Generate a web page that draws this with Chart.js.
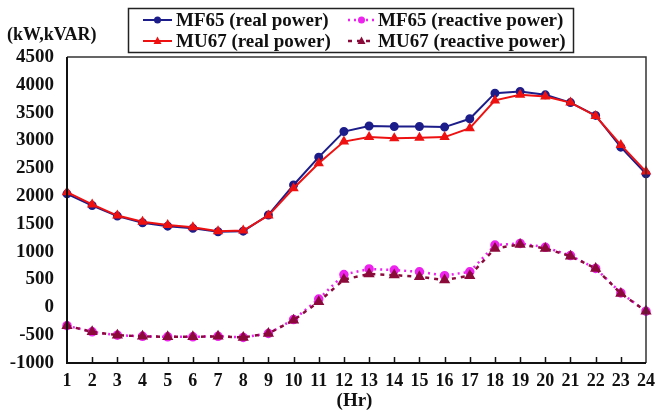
<!DOCTYPE html>
<html>
<head>
<meta charset="utf-8">
<script src="https://cdn.jsdelivr.net/npm/chart.js@4/dist/chart.umd.min.js"></script>
<style>
  html, body { margin: 0; padding: 0; background: #ffffff; }
  #wrap { width: 655px; height: 410px; position: relative; }
</style>
</head>
<body>
<div id="wrap"><canvas id="c" width="655" height="410"></canvas></div>
<script>
// Hourly load profile (kW for real power, kVAR for reactive power)
const hours = ['1','2','3','4','5','6','7','8','9','10','11','12','13','14','15','16','17','18','19','20','21','22','23','24'];

const mf65Real = [2040, 1830, 1640, 1520, 1460, 1420, 1360, 1370, 1660, 2200, 2700, 3160, 3260, 3250, 3250, 3240, 3390, 3850, 3880, 3820, 3680, 3450, 2880, 2400];
const mu67Real = [2070, 1850, 1650, 1540, 1480, 1440, 1370, 1380, 1650, 2140, 2590, 2980, 3060, 3040, 3050, 3060, 3220, 3720, 3820, 3790, 3680, 3440, 2920, 2440];
const mf65Reactive = [-330, -440, -500, -520, -530, -530, -520, -540, -470, -220, 150, 590, 690, 670, 640, 570, 640, 1120, 1150, 1080, 930, 700, 260, -70];
const mu67Reactive = [-330, -440, -500, -520, -530, -530, -520, -540, -470, -230, 100, 500, 600, 580, 550, 490, 570, 1060, 1130, 1060, 920, 700, 250, -70];

const yTicks = { min: -1000, max: 4500, step: 500 };

const seriesNames = ['MF65 (real power)', 'MU67 (real power)', 'MF65 (reactive power)', 'MU67 (reactive power)'];

const FONT = '"Liberation Serif", "Times New Roman", serif';

function drawMarker(ctx, style, x, y, r, color) {
  ctx.save();
  ctx.fillStyle = color;
  ctx.beginPath();
  if (style === 'triangle') {
    ctx.moveTo(x, y - r * 1.1);
    ctx.lineTo(x + r, y + r * 0.75);
    ctx.lineTo(x - r, y + r * 0.75);
    ctx.closePath();
  } else {
    ctx.arc(x, y, r, 0, Math.PI * 2);
  }
  ctx.fill();
  ctx.restore();
}

// Frame, inner x ticks, axis captions and boxed legend
const decorations = {
  id: 'decorations',
  afterDatasetsDraw(chart) {
    const { ctx, chartArea: a, scales } = chart;
    ctx.save();
    // thin top/right frame
    ctx.strokeStyle = '#333';
    ctx.lineWidth = 1.5;
    ctx.beginPath();
    ctx.moveTo(a.left, a.top);
    ctx.lineTo(a.right, a.top);
    ctx.lineTo(a.right, a.bottom);
    ctx.stroke();
    // heavier left/bottom axes
    ctx.strokeStyle = '#111';
    ctx.lineWidth = 2;
    ctx.beginPath();
    ctx.moveTo(a.left, a.top);
    ctx.lineTo(a.left, a.bottom);
    ctx.lineTo(a.right, a.bottom);
    ctx.stroke();
    // x ticks pointing into the plot
    ctx.lineWidth = 1.5;
    ctx.beginPath();
    for (let i = 1; i < hours.length - 1; i++) {
      const x = Math.round(scales.x.getPixelForValue(i)) + 0.5;
      ctx.moveTo(x, a.bottom);
      ctx.lineTo(x, a.bottom - 6);
    }
    ctx.stroke();
    ctx.restore();
  },
  afterDraw(chart) {
    const { ctx, chartArea: a } = chart;
    ctx.save();
    ctx.fillStyle = '#111';
    ctx.font = 'bold 18px ' + FONT;
    ctx.textBaseline = 'middle';
    ctx.textAlign = 'left';
    ctx.fillText('(kW,kVAR)', 7, 35);

    ctx.font = 'bold 19px ' + FONT;
    ctx.textAlign = 'center';
    ctx.fillText('(Hr)', (a.left + a.right) / 2 - 2, 401);

    // legend box
    ctx.textAlign = 'left';
    const box = { x: 128, y: 8, w: 445, h: 44 };
    ctx.strokeStyle = '#222';
    ctx.lineWidth = 1.5;
    ctx.strokeRect(box.x + 0.5, box.y + 0.5, box.w, box.h);

    const cols = [{ l0: 143, l1: 172, text: 176 }, { l0: 348, l1: 375, text: 378 }];
    const rows = [20, 41];
    chart.data.datasets.forEach((ds, i) => {
      const c = cols[Math.floor(i / 2)];
      const y = rows[i % 2];
      ctx.save();
      ctx.strokeStyle = ds.borderColor;
      ctx.lineWidth = ds.borderWidth;
      ctx.setLineDash(ds.borderDash || []);
      ctx.beginPath();
      ctx.moveTo(c.l0, y);
      ctx.lineTo(c.l1, y);
      ctx.stroke();
      ctx.restore();
      drawMarker(ctx, ds.pointStyle, (c.l0 + c.l1) / 2, y, ds.pointRadius, ds.pointBackgroundColor);
      ctx.fillStyle = '#111';
      ctx.font = 'bold 19px ' + FONT;
      ctx.textBaseline = 'middle';
      ctx.fillText(ds.label, c.text, y + 1);
    });
    ctx.restore();
  }
};

new Chart(document.getElementById('c'), {
  type: 'line',
  data: {
    labels: hours,
    datasets: [
      { label: seriesNames[0], data: mf65Real, borderColor: '#1c1c8a', backgroundColor: '#1c1c8a',
        pointBackgroundColor: '#1c1c8a', pointBorderColor: '#1c1c8a', borderWidth: 2,
        pointStyle: 'circle', pointRadius: 3.5, order: 4 },
      { label: seriesNames[1], data: mu67Real, borderColor: '#ee1111', backgroundColor: '#ee1111',
        pointBackgroundColor: '#ee1111', pointBorderColor: '#ee1111', borderWidth: 2,
        pointStyle: 'triangle', pointRadius: 4, order: 3 },
      { label: seriesNames[2], data: mf65Reactive, borderColor: '#ee22ee', backgroundColor: '#ee22ee',
        pointBackgroundColor: '#ee22ee', pointBorderColor: '#ee22ee', borderWidth: 2.5,
        borderDash: [2, 4], pointStyle: 'circle', pointRadius: 3.5, order: 2 },
      { label: seriesNames[3], data: mu67Reactive, borderColor: '#8a0a3a', backgroundColor: '#8a0a3a',
        pointBackgroundColor: '#8a0a3a', pointBorderColor: '#8a0a3a', borderWidth: 2.5,
        borderDash: [4, 5], pointStyle: 'triangle', pointRadius: 4, order: 1 }
    ]
  },
  options: {
    responsive: false,
    animation: false,
    layout: { padding: { top: 57, right: 6, left: 0, bottom: 0 } },
    plugins: { legend: { display: false }, tooltip: { enabled: false } },
    elements: { line: { tension: 0 }, point: { borderWidth: 1 } },
    scales: {
      x: {
        type: 'category',
        offset: false,
        grid: { display: false },
        border: { display: false },
        ticks: { color: '#111', font: { family: FONT, size: 18, weight: 'bold' }, padding: 0, maxRotation: 0, autoSkip: false },
        afterFit(s) { s.height = 47; }
      },
      y: {
        min: yTicks.min,
        max: yTicks.max,
        grid: { display: false },
        border: { display: false },
        ticks: { stepSize: yTicks.step, color: '#111', font: { family: FONT, size: 19, weight: 'bold' }, padding: 5,
                 callback: (v) => String(v) },
        afterFit(s) { s.width = 67; }
      }
    }
  },
  plugins: [decorations]
});
</script>
</body>
</html>
